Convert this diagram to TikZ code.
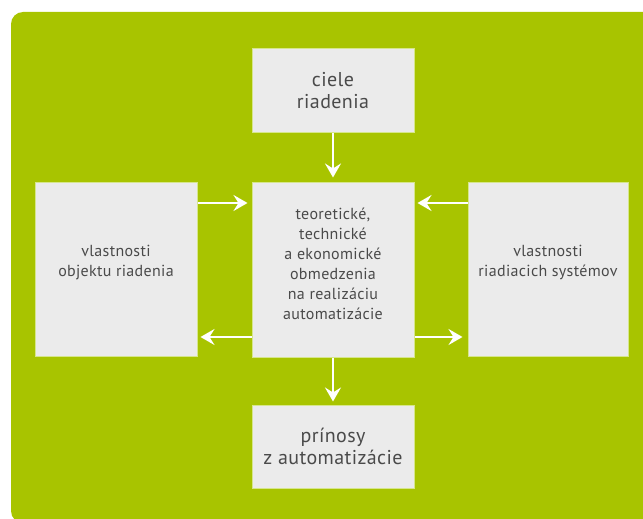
\documentclass[tikz,border=0pt]{standalone}
\usepackage{fontspec}
\setmainfont{PT Sans}[LetterSpace=2]
\usetikzlibrary{arrows.meta}
\definecolor{bggreen}{HTML}{A8C400}
\definecolor{boxgray}{HTML}{EBEBEB}
\definecolor{txtgray}{HTML}{4A4A4A}
\definecolor{edgecol}{HTML}{D6E68C}
\begin{document}
\begin{tikzpicture}[x=1pt,y=-1pt,
  box/.style={fill=boxgray, draw=edgecol, line width=1pt, text=txtgray, align=center, inner sep=0pt, minimum width=162pt},
  big/.style={font=\fontsize{20}{22.5}\selectfont},
  small/.style={font=\fontsize{16}{20}\selectfont},
  arr/.style={draw=white, line width=2.8pt, -{Stealth[length=14pt,width=16pt,inset=5pt]}}]
\useasboundingbox (0,0) rectangle (643,519);
\begin{scope}
\clip (0,0) rectangle (643,519);
\fill[bggreen, rounded corners=12pt] (11,12) rectangle (660,523);
\end{scope}
\node[box,big,minimum height=83pt] (goal) at (333,90.5) {ciele\\riadenia};
\node[box,small,minimum height=175pt,text depth=12pt] (center) at (333,269.5) {teoretické,\\technické\\a~ekonomické\\obmedzenia\\na realizáciu\\automatizácie};
\node[box,big,minimum height=83pt] (gain) at (333,446.5) {prínosy\\z automatizácie};
\node[box,small,minimum height=174pt,text depth=18pt] (left) at (116,269.5) {vlastnosti\\objektu riadenia};
\node[box,small,minimum height=174pt,minimum width=160pt,text depth=18pt] (right) at (548,269.5) {vlastnosti\\riadiacich systémov};
\draw[arr] (goal.south) -- ([yshift=4pt]center.north);
\draw[arr] (center.south) -- ([yshift=3pt]gain.north);
\draw[arr] ([yshift=66.5pt]left.east) -- ([yshift=66.5pt,xshift=-4pt]center.west);
\draw[arr] ([yshift=66.5pt]right.west) -- ([yshift=66.5pt,xshift=3pt]center.east);
\draw[arr] ([yshift=-67.5pt]center.west) -- ([yshift=-67.5pt,xshift=3pt]left.east);
\draw[arr] ([yshift=-67.5pt]center.east) -- ([yshift=-67.5pt,xshift=-5pt]right.west);
\end{tikzpicture}
\end{document}
